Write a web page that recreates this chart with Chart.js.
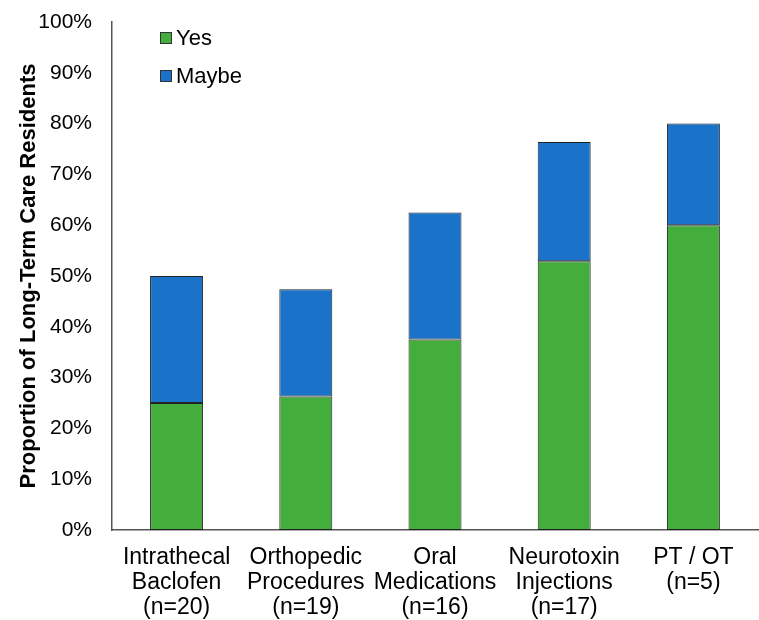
<!DOCTYPE html>
<html lang="en">
<head>
    <meta charset="UTF-8">
    <title>Proportion of Long-Term Care Residents</title>
    <script src="https://cdn.jsdelivr.net/npm/chart.js"></script>
    <style>
        html, body { margin: 0; padding: 0; background: #fff; }
        #wrap { width: 759px; height: 620px; }
    </style>
</head>
<body>
    <div id="wrap"><canvas id="chart" width="759" height="620"></canvas></div>

    <script>
        const categories = [
            ['Intrathecal', 'Baclofen', '(n=20)'],
            ['Orthopedic', 'Procedures', '(n=19)'],
            ['Oral', 'Medications', '(n=16)'],
            ['Neurotoxin', 'Injections', '(n=17)'],
            ['PT / OT', '(n=5)']
        ];
        const yesValues = [25.0, 26.3, 37.5, 52.9, 60.0];
        const maybeValues = [25.0, 21.1, 25.0, 23.5, 20.0];
        const yTicks = [0, 10, 20, 30, 40, 50, 60, 70, 80, 90, 100];

        const FONT = "'Liberation Sans', Arial, sans-serif";

        // legend drawn inside the plot area, top left
        const insideLegend = {
            id: 'insideLegend',
            afterDraw(chart) {
                const ctx = chart.ctx;
                const x = 160, ys = [38, 76];
                ctx.save();
                ctx.font = '22px ' + FONT;
                ctx.textBaseline = 'middle';
                chart.data.datasets.forEach((ds, i) => {
                    const y = ys[i];
                    ctx.fillStyle = ds.backgroundColor;
                    ctx.fillRect(x, y - 6, 12, 12);
                    ctx.strokeStyle = '#333';
                    ctx.lineWidth = 1;
                    ctx.strokeRect(x + 0.5, y - 5.5, 11, 11);
                    ctx.fillStyle = '#000';
                    ctx.fillText(ds.label, x + 16, y + 1);
                });
                ctx.restore();
            }
        };

        new Chart(document.getElementById('chart'), {
            type: 'bar',
            data: {
                labels: categories,
                datasets: [{
                    label: 'Yes',
                    data: yesValues,
                    backgroundColor: '#43AE3B',
                    borderColor: '#222',
                    borderWidth: 1,
                    borderSkipped: false
                }, {
                    label: 'Maybe',
                    data: maybeValues,
                    backgroundColor: '#1A73C9',
                    borderColor: '#222',
                    borderWidth: 1,
                    borderSkipped: false
                }]
            },
            options: {
                responsive: false,
                animation: false,
                layout: { padding: { left: 16, right: 1, top: 22, bottom: 0 } },
                datasets: { bar: { categoryPercentage: 1, barPercentage: 0.41 } },
                plugins: {
                    legend: { display: false },
                    tooltip: { enabled: false }
                },
                scales: {
                    x: {
                        stacked: true,
                        grid: { display: false, drawTicks: false },
                        border: { display: true, color: '#555', width: 1.5 },
                        ticks: {
                            color: '#000',
                            font: { family: FONT, size: 23, lineHeight: 1.09 },
                            padding: 15,
                            maxRotation: 0,
                            autoSkip: false
                        },
                        afterFit(scale) { scale.height = 90; }
                    },
                    y: {
                        stacked: true,
                        min: 0,
                        max: 100,
                        afterBuildTicks(scale) {
                            scale.ticks = yTicks.map(v => ({ value: v }));
                        },
                        grid: { display: false, drawTicks: false },
                        border: { display: true, color: '#555', width: 1.5 },
                        ticks: {
                            color: '#000',
                            font: { family: FONT, size: 21 },
                            padding: 20,
                            callback: v => v + '%'
                        },
                        title: {
                            display: true,
                            text: 'Proportion of Long-Term Care Residents',
                            color: '#000',
                            font: { family: FONT, size: 22, weight: 'bold' },
                            padding: { top: 0, bottom: 4 }
                        },
                        afterFit(scale) {
                            scale.width = 96;
                            scale.paddingTop = 0;
                        }
                    }
                }
            },
            plugins: [insideLegend]
        });
    </script>
</body>
</html>
